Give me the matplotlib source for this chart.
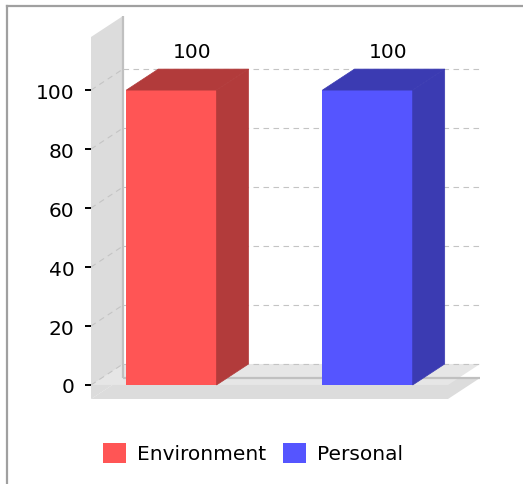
import matplotlib
matplotlib.use('Agg')
import matplotlib.pyplot as plt
from matplotlib.patches import Polygon, Patch
from matplotlib.lines import Line2D

# data
categories = ['Environment', 'Personal']
values = [100, 100]
front_colors = ['#ff5555', '#5555ff']
dark_colors = ['#b23b3b', '#3b3bb2']
yticks = [0, 20, 40, 60, 80, 100]

W, H = 523, 485
fig = plt.figure(figsize=(W / 100, H / 100), dpi=100)
fig.patch.set_facecolor('white')

# front plane of the plot area (pixels): x 91..448, y 38..400
ax = fig.add_axes([91 / W, (H - 400) / H, (448 - 91) / W, (400 - 38) / H])
ax.patch.set_visible(False)
xmin, xmax = -0.41, 1.41
ymin, ymax = -4.75, 118
ax.set_xlim(xmin, xmax)
ax.set_ylim(ymin, ymax)
for s in ax.spines.values():
    s.set_visible(False)

# 3d depth, 32px right and 21px up, in data units
dx = 32 / ((448 - 91) / (xmax - xmin))
dy = 21 / ((400 - 38) / (ymax - ymin))

wall = '#dcdcdc'
# left wall
ax.add_patch(Polygon([(xmin, ymin), (xmin + dx, ymin + dy), (xmin + dx, ymax + dy), (xmin, ymax)],
                     closed=True, fc=wall, ec='none', clip_on=False, zorder=0))
# floor
ax.add_patch(Polygon([(xmin, ymin), (xmax, ymin), (xmax + dx, ymin + dy), (xmin + dx, ymin + dy)],
                     closed=True, fc=wall, ec='none', clip_on=False, zorder=0))
# zero plane
ax.add_patch(Polygon([(xmin, 0), (xmax, 0), (xmax + dx, dy), (xmin + dx, dy)],
                     closed=True, fc='#e6e6e6', ec='none', clip_on=False, zorder=0.5))
# back plane outline (left and bottom)
ax.plot([xmin + dx, xmin + dx], [ymin + dy, ymax + dy], color='#c0c0c0', lw=1.6,
        clip_on=False, zorder=0.8, solid_capstyle='butt')
ax.plot([xmin + dx, xmax + dx], [ymin + dy, ymin + dy], color='#c0c0c0', lw=1.6,
        clip_on=False, zorder=0.8, solid_capstyle='butt')

# gridlines
for v in yticks:
    ax.plot([xmin + dx, xmax + dx], [v + dy, v + dy], color='#c4c4c4', lw=0.8,
            ls=(0, (5, 4)), clip_on=False, zorder=1)
    ax.plot([xmin, xmin + dx], [v, v + dy], color='#c4c4c4', lw=0.8,
            ls=(0, (5, 4)), clip_on=False, zorder=1)

# bars
bw = 0.46
xs = list(range(len(categories)))
ax.bar(xs, values, width=bw, color=front_colors, zorder=3)
for x, v, c in zip(xs, values, dark_colors):
    r = x + bw / 2
    l = x - bw / 2
    ax.add_patch(Polygon([(r, 0), (r + dx, dy), (r + dx, v + dy), (r, v)],
                         closed=True, fc=c, ec=c, lw=0.5, clip_on=False, zorder=3))
    ax.add_patch(Polygon([(l, v), (r, v), (r + dx, v + dy), (l + dx, v + dy)],
                         closed=True, fc=c, ec=c, lw=0.5, clip_on=False, zorder=3))
    ax.annotate(str(v), (x + dx * 0.65, v + dy), xytext=(0, 6), textcoords='offset points',
                ha='center', va='bottom', fontsize=14.5, color='black', zorder=4)

ax.set_xticks([])
ax.set_yticks(yticks)
ax.set_yticklabels([str(t) for t in yticks])
ax.tick_params(axis='y', length=4.3, width=1.4, pad=7.5, labelsize=14.5, colors='black')

# legend
handles = [Patch(facecolor=c, edgecolor='none') for c in front_colors]
fig.legend(handles, categories, loc='center', bbox_to_anchor=(253 / W, 1 - 454 / H),
           ncol=2, frameon=False, fontsize=14.5, handlelength=1.15, handleheight=1.15,
           handletextpad=0.55, columnspacing=0.85, borderpad=0)

# outer border (top and left)
fig.add_artist(Line2D([7 / W, 7 / W], [0, 1 - 7 / H], color='#a0a0a0', lw=1.6))
fig.add_artist(Line2D([7 / W, 1], [1 - 7 / H, 1 - 7 / H], color='#a0a0a0', lw=1.6))

fig.savefig('out.png', dpi=100)
